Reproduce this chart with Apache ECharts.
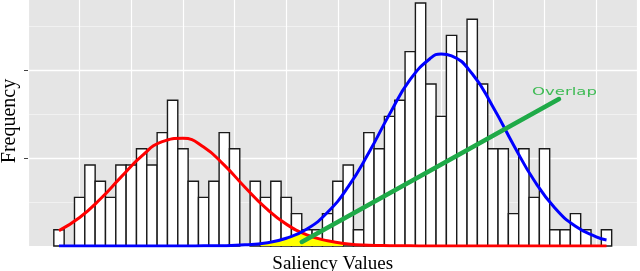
<!DOCTYPE html>
<html><head><meta charset="utf-8">
<script src="https://cdn.jsdelivr.net/npm/echarts@6/dist/echarts.min.js"></script>
<style>html,body{margin:0;padding:0;background:#fff}#c{width:640px;height:271px}</style>
</head><body><div id="c"></div>
<script>
// Histogram bins (saliency units)
const binStart = 0.025;
const binWidth = 0.01;
const counts = [1,0,3,5,4,3,5,5,6,5,7,9,6,4,3,4,7,6,0,4,3,4,3,2,1,1,2,4,5,1,7,6,8,9,12,15,10,8,13,12,14,10,6,6,2,6,3,6,1,1,2,1,0,1];

// Fitted curves
const curveX = [0.03,0.05,0.07,0.09,0.11,0.13,0.15,0.17,0.19,0.21,0.23,0.25,0.27,0.29,0.31,0.33,0.35,0.37,0.39,0.40,0.41,0.43,0.45,0.47,0.49,0.51,0.53,0.55,0.56];
const redY  = [0.95,1.76,2.90,4.25,5.55,6.44,6.65,6.11,4.99,3.63,2.35,1.35,0.69,0.32,0.13,0.05,0.02,0.01,0,0,0,0,0,0,0,0,0,0,0];
const blueY = [0,0,0,0,0,0,0,0.01,0.02,0.07,0.19,0.48,1.05,2.08,3.66,5.77,8.14,10.28,11.61,11.85,11.74,10.63,8.60,6.24,4.04,2.35,1.22,0.57,0.37];

// Overlap (yellow) region
const overlapX = [0.225,0.235,0.245,0.255,0.264,0.275,0.285,0.295,0.305];
const overlapY = [0.15,0.25,0.39,0.59,0.85,0.58,0.39,0.26,0.16];

// Annotation arrow
const arrowX = [0.265, 0.514];
const arrowY = [0.25, 9.07];
const arrowLabel = 'Overlap';

// Axis ticks
const yMajor = 5.432;
const yTickValues = [5.432, 10.864];
const xTitle = 'Saliency Values';
const yTitle = 'Frequency';

const chart = echarts.init(document.getElementById('c'), null, {renderer:'canvas'});
const barData = counts.map((c,i)=>[binStart+i*binWidth, binStart+(i+1)*binWidth, c]);

chart.setOption({
  animation:false,
  grid:{left:28, right:2.5, top:-18, bottom:25, show:true, backgroundColor:'#e5e5e5', borderWidth:0,
    containLabel:false, outerBoundsMode:'none'},
  xAxis:{type:'value', min:0, max:0.59, interval:0.05,
    axisLine:{show:false}, axisTick:{show:false}, axisLabel:{show:false},
    splitLine:{show:true, lineStyle:{color:'#ffffff', width:1.2}},
    name:xTitle, nameLocation:'middle', nameGap:9,
    nameTextStyle:{fontFamily:'Liberation Serif', fontSize:19, color:'#000', verticalAlign:'top'}
  },
  yAxis:{type:'value', min:0, max:yMajor*3, interval:yMajor,
    axisLine:{show:false}, axisLabel:{show:false},
    axisTick:{show:true, length:4, lineStyle:{color:'#444', width:1}, customValues:yTickValues},
    splitLine:{show:true, lineStyle:{color:'#ffffff', width:1.4}},
    minorTick:{show:false, splitNumber:2},
    minorSplitLine:{show:true, lineStyle:{color:'#f4f4f4', width:0.8}}
  },
  series:[
    {type:'custom', z:2, data:barData, encode:{x:[0,1], y:2},
      renderItem:function(params, api){
        const c = api.value(2);
        if(!c) return;
        const p0 = api.coord([api.value(0), c]);
        const p1 = api.coord([api.value(1), 0]);
        return {type:'rect', shape:{x:p0[0], y:p0[1], width:p1[0]-p0[0], height:p1[1]-p0[1]},
          style:{fill:'#ffffff', stroke:'#1a1a1a', lineWidth:1.4}};
      }
    },
    {type:'line', z:3, data:overlapX.map((x,i)=>[x, overlapY[i]]), showSymbol:false, smooth:false,
      lineStyle:{width:0}, areaStyle:{color:'#ffff00', opacity:1}},
    {type:'line', z:4, data:curveX.map((x,i)=>[x, redY[i]]), showSymbol:false, smooth:true,
      lineStyle:{color:'#ff0000', width:3}},
    {type:'line', z:5, data:curveX.map((x,i)=>[x, blueY[i]]), showSymbol:false, smooth:true,
      lineStyle:{color:'#0000ff', width:3}},
    {type:'line', z:6, data:arrowX.map((x,i)=>[x, arrowY[i]]), showSymbol:false,
      lineStyle:{color:'#1faa48', width:4.5, cap:'round'}}
  ],
  graphic:[
    {type:'text', x:532, y:87, scaleX:1.5, z:10,
      style:{text:arrowLabel, font:'11px "DejaVu Sans"', fill:'#3fbb55', textVerticalAlign:'top'}},
    {type:'text', x:10, y:121, rotation:Math.PI/2, z:10,
      style:{text:yTitle, font:'20px "Liberation Serif"', fill:'#000', textAlign:'center', textVerticalAlign:'middle'}}
  ]
});
</script></body></html>
